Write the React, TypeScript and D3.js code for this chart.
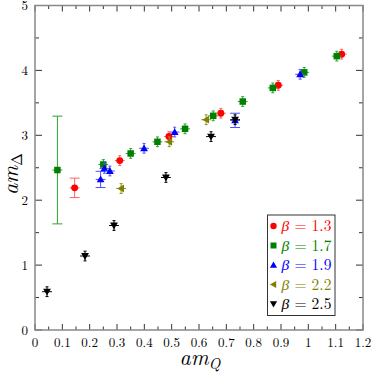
import React, { useRef, useLayoutEffect } from 'react';
import * as d3 from 'd3';

// [amQ, amDelta, yErr?]
const beta13 = [[0.145, 2.19, 0.15], [0.31, 2.61], [0.49, 2.98], [0.68, 3.34], [0.89, 3.77], [1.122, 4.25]];
const beta17 = [[0.082, 2.465, 0.83], [0.25, 2.55], [0.35, 2.72], [0.448, 2.9], [0.549, 3.1], [0.652, 3.3], [0.76, 3.52], [0.87, 3.73], [0.985, 3.97], [1.104, 4.22]];
const beta19 = [[0.24, 2.32, 0.125], [0.254, 2.49], [0.274, 2.45], [0.399, 2.8], [0.511, 3.05], [0.732, 3.23, 0.11], [0.97, 3.94]];
const beta22 = [[0.315, 2.18], [0.491, 2.9], [0.626, 3.24]];
const beta25 = [[0.044, 0.59], [0.183, 1.14], [0.289, 1.61], [0.479, 2.35], [0.644, 2.98], [0.732, 3.24]];

const seriesLabels = ['1.3', '1.7', '1.9', '2.2', '2.5'];
const xTicks = [0, 0.1, 0.2, 0.3, 0.4, 0.5, 0.6, 0.7, 0.8, 0.9, 1, 1.1, 1.2];
const yTicks = [0, 1, 2, 3, 4, 5];

const defaultYErr = 0.075;
const defaultXErr = 0.018;

const Chart = () => {
    const ref = useRef(null);
    useLayoutEffect(() => {
        document.body.style.margin = '0';
        const svg = d3.select(ref.current);
        svg.selectAll('*').remove();

        const left = 35, right = 363, top = 5.5, bottom = 330;
        const x = d3.scaleLinear().domain([0, 1.2]).range([left, right]);
        const y = d3.scaleLinear().domain([0, 5]).range([bottom, top]);

        const series = [
            { data: beta13, color: '#ff0000', err: '#ff6060', shape: 'circle' },
            { data: beta17, color: '#008000', err: '#30a030', shape: 'square' },
            { data: beta19, color: '#0000ff', err: '#5050ff', shape: 'up' },
            { data: beta22, color: '#808000', err: '#909020', shape: 'left' },
            { data: beta25, color: '#000000', err: '#000000', shape: 'down' }
        ];

        const shapePath = (shape, s) => {
            if (shape === 'circle') return d3.symbol(d3.symbolCircle, s * s * 0.9)();
            if (shape === 'square') return `M${-s / 2},${-s / 2}h${s}v${s}h${-s}Z`;
            if (shape === 'up') return `M0,${-s * 0.6}L${s * 0.6},${s * 0.45}L${-s * 0.6},${s * 0.45}Z`;
            if (shape === 'down') return `M0,${s * 0.6}L${s * 0.6},${-s * 0.45}L${-s * 0.6},${-s * 0.45}Z`;
            return `M${-s * 0.6},0L${s * 0.45},${-s * 0.6}L${s * 0.45},${s * 0.6}Z`;
        };

        // major + minor ticks on all four sides
        const xMinor = d3.range(0, 1.2001, 0.05);
        const yMinor = d3.range(0, 5.001, 0.5);
        const tickG = svg.append('g').attr('stroke', '#333').attr('stroke-width', 1);
        xMinor.forEach((v, i) => {
            const len = i % 2 === 0 ? 6 : 3.5;
            tickG.append('line').attr('x1', x(v)).attr('x2', x(v)).attr('y1', bottom).attr('y2', bottom - len);
            tickG.append('line').attr('x1', x(v)).attr('x2', x(v)).attr('y1', top).attr('y2', top + len);
        });
        yMinor.forEach((v, i) => {
            const len = i % 2 === 0 ? 7 : 4;
            tickG.append('line').attr('y1', y(v)).attr('y2', y(v)).attr('x1', left).attr('x2', left + len);
            tickG.append('line').attr('y1', y(v)).attr('y2', y(v)).attr('x1', right).attr('x2', right - len);
        });

        // frame
        svg.append('rect')
            .attr('x', left).attr('y', top)
            .attr('width', right - left).attr('height', bottom - top)
            .attr('fill', 'none').attr('stroke', '#888').attr('stroke-width', 1.5);

        // tick labels
        svg.append('g').selectAll('text').data(xTicks).enter().append('text')
            .attr('x', d => x(d)).attr('y', bottom + 17)
            .attr('text-anchor', 'middle')
            .attr('font-size', 13)
            .text(d => d3.format('~g')(d));
        svg.append('g').selectAll('text').data(yTicks).enter().append('text')
            .attr('x', left - 7).attr('y', d => y(d) + 4.5)
            .attr('text-anchor', 'end')
            .attr('font-size', 13)
            .text(d => d);

        // axis labels
        const xl = svg.append('text')
            .attr('x', (left + right) / 2 + 1).attr('y', 365)
            .attr('text-anchor', 'middle')
            .attr('font-size', 22).attr('font-style', 'italic');
        xl.append('tspan').text('am');
        xl.append('tspan').attr('dy', 3.5).attr('font-size', 15).text('Q');

        const yl = svg.append('text')
            .attr('transform', `translate(18,174) rotate(-90)`)
            .attr('text-anchor', 'middle')
            .attr('font-size', 22).attr('font-style', 'italic');
        yl.append('tspan').text('am');
        yl.append('tspan').attr('dy', 4).attr('font-size', 15).attr('font-style', 'normal').text('Δ');

        // error bars + markers
        series.forEach(s => {
            const g = svg.append('g');
            s.data.forEach(d => {
                const cx = x(d[0]), cy = y(d[1]);
                const ye = d[2] !== undefined ? d[2] : defaultYErr;
                const big = d[2] !== undefined;
                const eg = g.append('g').attr('stroke', s.err).attr('stroke-width', 1);
                eg.append('line').attr('x1', cx).attr('x2', cx).attr('y1', y(d[1] - ye)).attr('y2', y(d[1] + ye));
                eg.append('line').attr('x1', x(d[0] - defaultXErr)).attr('x2', x(d[0] + defaultXErr)).attr('y1', cy).attr('y2', cy);
                const cw = big ? 5 : 1.5;
                [d[1] - ye, d[1] + ye].forEach(v => {
                    eg.append('line').attr('x1', cx - cw).attr('x2', cx + cw).attr('y1', y(v)).attr('y2', y(v));
                });
                g.append('path')
                    .attr('transform', `translate(${cx},${cy})`)
                    .attr('d', shapePath(s.shape, 6.5))
                    .attr('fill', s.color);
            });
        });

        // legend
        const lg = svg.append('g');
        lg.append('rect')
            .attr('x', 267.5).attr('y', 215).attr('width', 67.5).attr('height', 100.5)
            .attr('fill', 'white').attr('stroke', '#333').attr('stroke-width', 1);
        series.forEach((s, i) => {
            const ly = 226 + i * 19.5;
            lg.append('path')
                .attr('transform', `translate(273.5,${ly})`)
                .attr('d', shapePath(s.shape, 6))
                .attr('fill', s.color);
            const t = lg.append('text')
                .attr('x', 281.5).attr('y', ly + 5)
                .attr('fill', s.color)
                .attr('font-size', 15.5);
            t.append('tspan').attr('font-style', 'italic').text('β');
            t.append('tspan').text(' = ' + seriesLabels[i]);
        });
    }, []);

    return <svg ref={ref} width={374} height={373} fontFamily="Latin Modern Roman" style={{ display: 'block' }}></svg>;
};

export default function App() {
    return <Chart />;
}
